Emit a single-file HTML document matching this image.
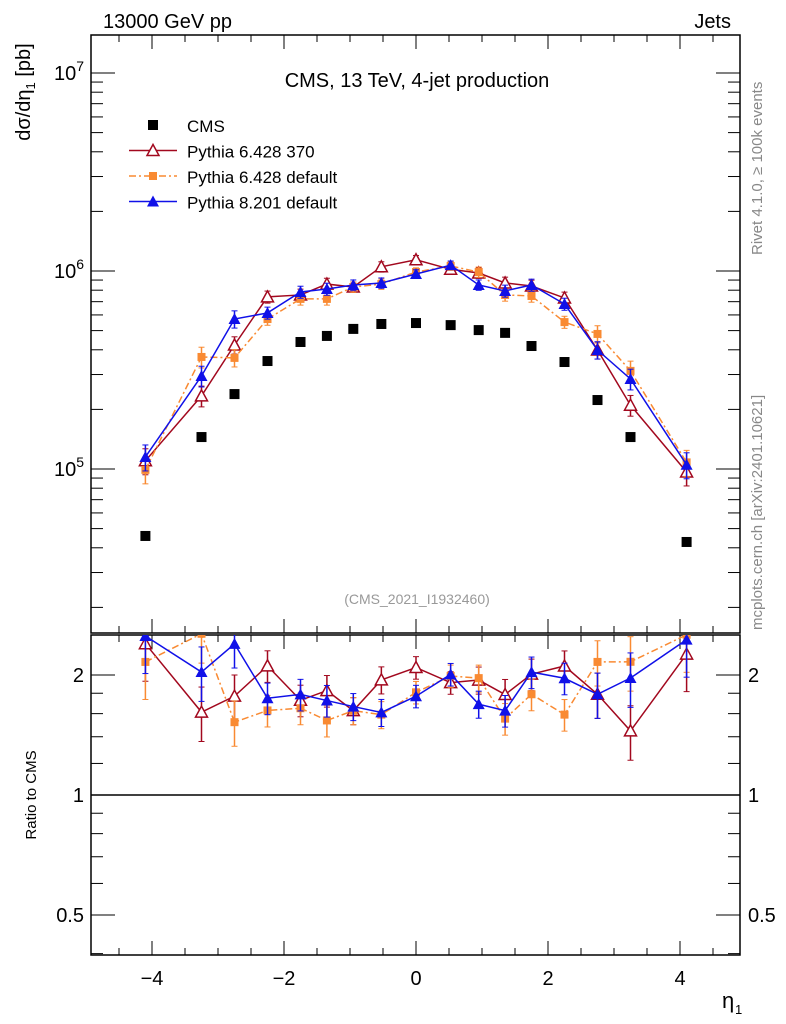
<!DOCTYPE html>
<html><head><meta charset="utf-8"><style>
body{margin:0;background:#fff;}
svg{display:block;font-family:"Liberation Sans",sans-serif;}
</style></head><body>
<svg id="c" width="786" height="1024" viewBox="0 0 786 1024">
<g id="frame"></g>
<g id="marks"></g>
</svg>
<script>
const etaBins = [-4.1,-3.25,-2.75,-2.25,-1.75,-1.35,-0.95,-0.525,0,0.525,0.95,1.35,1.75,2.25,2.75,3.25,4.1];
const cmsVals = [4.59e4,1.45e5,2.39e5,3.51e5,4.38e5,4.70e5,5.10e5,5.40e5,5.46e5,5.33e5,5.03e5,4.87e5,4.18e5,3.47e5,2.23e5,1.45e5,4.28e4];
const py6_370 = [1.10e5,2.34e5,4.23e5,7.40e5,7.57e5,8.59e5,8.30e5,1.05e6,1.14e6,1.02e6,9.77e5,8.70e5,8.40e5,7.31e5,3.99e5,2.10e5,9.66e4];
const py6_def = [9.9e4,3.68e5,3.64e5,5.72e5,7.23e5,7.23e5,8.30e5,8.59e5,9.88e5,1.06e6,9.88e5,7.57e5,7.48e5,5.52e5,4.81e5,3.13e5,1.08e5];
const py8_def = [1.15e5,2.95e5,5.72e5,6.14e5,7.83e5,8.11e5,8.50e5,8.70e5,9.66e5,1.07e6,8.50e5,7.93e5,8.50e5,6.81e5,3.99e5,2.85e5,1.05e5];
const relErr = [0.15,0.12,0.1,0.07,0.07,0.07,0.06,0.06,0.05,0.05,0.06,0.07,0.07,0.07,0.1,0.12,0.15];
const xTicks = [-4,-2,0,2,4];
const yTicks = [5,6,7];
const rTicks = [0.5,1,2];

const NS="http://www.w3.org/2000/svg";
const L=91,R=740,T=35,MB=633,RT=635,RB=955;
const X=v=>416+v*66;
const Y=v=>271-(Math.log10(v)-6)*198;
const YR=r=>795-Math.log2(r)*120;
function mk(tag,attrs,parent,txt){const e=document.createElementNS(NS,tag);for(const k in attrs)e.setAttribute(k,attrs[k]);if(txt!==undefined)e.textContent=txt;(parent||document.getElementById('marks')).appendChild(e);return e;}
const F=document.getElementById('frame');
let e=mk('rect',{x:L,y:T,width:R-L,height:MB-T,fill:'none',stroke:'#000','stroke-width':1.5},F);

e=mk('rect',{x:L,y:RT,width:R-L,height:RB-RT,fill:'none',stroke:'#000','stroke-width':1.5},F);

for(let v=-4.5;v<=4.6;v+=0.5){const maj=Math.abs(v-Math.round(v/2)*2)<1e-6;const len=maj?14:7;
 for(const [y0,dir] of [[T,1],[MB,-1],[RT,1],[RB,-1]]) mk('line',{x1:X(v),x2:X(v),y1:y0,y2:y0+dir*len,stroke:'#000','stroke-width':1},F);}
xTicks.forEach(v=>{const t=mk('text',{x:X(v),y:985,'font-size':20,'text-anchor':'middle'},F,(v<0?'\u2212':'')+Math.abs(v));
 });
e=mk('text',{x:722,y:1008,'font-size':22},F,'\u03b7');
mk('text',{x:735,y:1014,'font-size':13},F,'1');
for(let d=4;d<=7;d++)for(let m=1;m<10;m++){const v=m*Math.pow(10,d);const y=Y(v);if(y<T||y>MB)continue;const len=m==1?24:12;
 mk('line',{x1:L,x2:L+len,y1:y,y2:y,stroke:'#000'},F);mk('line',{x1:R,x2:R-len,y1:y,y2:y,stroke:'#000'},F);}
yTicks.forEach(d=>{const g=mk('text',{x:84,y:Y(Math.pow(10,d))+7,'font-size':20,'text-anchor':'end'},F);
 
 mk('tspan',{},g,'10');mk('tspan',{dy:-9,'font-size':14},g,String(d));});
e=mk('text',{transform:'translate(30,92) rotate(-90)','font-size':20,'text-anchor':'middle'},F);

mk('tspan',{},e,'d\u03c3/d\u03b7');mk('tspan',{dy:5,'font-size':13},e,'1');mk('tspan',{dy:-5},e,' [pb]');
[0.4,0.5,0.6,0.7,0.8,0.9,1,2].forEach(r=>{const y=YR(r);const len=(r==0.5||r==1||r==2)?24:12;
 mk('line',{x1:L,x2:L+len,y1:y,y2:y,stroke:'#000'},F);mk('line',{x1:R,x2:R-len,y1:y,y2:y,stroke:'#000'},F);});
[1.2,1.4,1.6,1.8].forEach(r=>{const y=YR(r);mk('line',{x1:L,x2:L+12,y1:y,y2:y,stroke:'#000'},F);mk('line',{x1:R,x2:R-12,y1:y,y2:y,stroke:'#000'},F);});
rTicks.forEach(r=>{for(const [x,a] of [[84,'end'],[748,'start']]){const t=mk('text',{x:x,y:YR(r)+7,'font-size':20,'text-anchor':a},F,String(r));
 }});
e=mk('line',{x1:L,x2:R,y1:YR(1),y2:YR(1),stroke:'#000','stroke-width':1.5},F);
e=mk('text',{transform:'translate(36,795) rotate(-90)','font-size':15,'text-anchor':'middle'},F,'Ratio to CMS');

e=mk('text',{x:103,y:28,'font-size':20},F,'13000 GeV pp');
e=mk('text',{x:731,y:28,'font-size':20,'text-anchor':'end'},F,'Jets');
e=mk('text',{x:417,y:87,'font-size':20,'text-anchor':'middle'},F,'CMS, 13 TeV, 4-jet production');
e=mk('text',{x:417,y:604,'font-size':14,'text-anchor':'middle',fill:'#999'},F,'(CMS_2021_I1932460)');
e=mk('text',{transform:'translate(762,255) rotate(-90)','font-size':15,fill:'#888'},F,'Rivet 4.1.0, \u2265 100k events');
e=mk('text',{transform:'translate(762,630) rotate(-90)','font-size':15,fill:'#888'},F,'mcplots.cern.ch [arXiv:2401.10621]');

const series=[
 {name:'pythia-6428-370',vals:py6_370,color:'#a2081e',dash:'',marker:'otri'},
 {name:'pythia-6428-default',vals:py6_def,color:'#f98a32',dash:'7,3,2,3',marker:'sq'},
 {name:'pythia-8201-default',vals:py8_def,color:'#1010e8',dash:'',marker:'tri'}];
function marker(m,x,y,c,g){
 if(m=='sq')return mk('rect',{x:x-4,y:y-4,width:8,height:8,fill:c},g);
 const p=`${x},${y-6} ${x-6},${y+5} ${x+6},${y+5}`;
 if(m=='tri')return mk('polygon',{points:p,fill:c},g);
 return mk('polygon',{points:p,fill:'#fff',stroke:c,'stroke-width':1.5},g);}
series.forEach(s=>{
 const g=mk('g',{});
 const pts=etaBins.map((x,i)=>X(x)+','+Y(s.vals[i])).join(' ');
 mk('polyline',{points:pts,fill:'none',stroke:s.color,'stroke-width':1.5,'stroke-dasharray':s.dash},g);
 const cp=mk('clipPath',{id:'cp'+s.name},g);mk('rect',{x:L,y:RT,width:R-L,height:RB-RT},cp);
 const rg=mk('g',{'clip-path':'url(#cp'+s.name+')'},g);
 mk('polyline',{points:etaBins.map((x,i)=>X(x)+','+YR(s.vals[i]/cmsVals[i])).join(' '),fill:'none',stroke:s.color,'stroke-width':1.5,'stroke-dasharray':s.dash},rg);
 etaBins.forEach((x,i)=>{
  const v=s.vals[i],er=relErr[i];
  mk('line',{x1:X(x),x2:X(x),y1:Y(v*(1+er)),y2:Y(v*(1-er)),stroke:s.color,'stroke-width':1.5},g);
  mk('line',{x1:X(x)-3,x2:X(x)+3,y1:Y(v*(1+er)),y2:Y(v*(1+er)),stroke:s.color},g);
  mk('line',{x1:X(x)-3,x2:X(x)+3,y1:Y(v*(1-er)),y2:Y(v*(1-er)),stroke:s.color},g);
  const pt=marker(s.marker,X(x),Y(v),s.color,g);
  
  const r=v/cmsVals[i],re=er*1.3;
  mk('line',{x1:X(x),x2:X(x),y1:YR(r*(1+re)),y2:YR(r*(1-re)),stroke:s.color,'stroke-width':1.5},rg);
  mk('line',{x1:X(x)-3,x2:X(x)+3,y1:YR(r*(1+re)),y2:YR(r*(1+re)),stroke:s.color},rg);
  mk('line',{x1:X(x)-3,x2:X(x)+3,y1:YR(r*(1-re)),y2:YR(r*(1-re)),stroke:s.color},rg);
  const rp=marker(s.marker,X(x),YR(r),s.color,rg);
  
 });
});
const cg=mk('g',{});
etaBins.forEach((x,i)=>{const r=mk('rect',{x:X(x)-5,y:Y(cmsVals[i])-5,width:10,height:10,fill:'#000'},cg);
 });

const lg=mk('g',{});
const legItems=[['CMS','#000','','cms'],['Pythia 6.428 370','#a2081e','','otri'],['Pythia 6.428 default','#f98a32','7,3,2,3','sq'],['Pythia 8.201 default','#1010e8','','tri']];
legItems.forEach((it,i)=>{const y=125+i*25.5;
 const g=mk('g',{},lg);
 if(it[3]=='cms'){mk('rect',{x:148,y:y-5,width:10,height:10,fill:'#000'},g);}
 else{mk('line',{x1:129,x2:177,y1:y,y2:y,stroke:it[1],'stroke-width':1.5,'stroke-dasharray':it[2]},g);marker(it[3],153,y,it[1],g);}
 mk('text',{x:187,y:y+7,'font-size':17},g,it[0]);});
</script>
</body></html>
